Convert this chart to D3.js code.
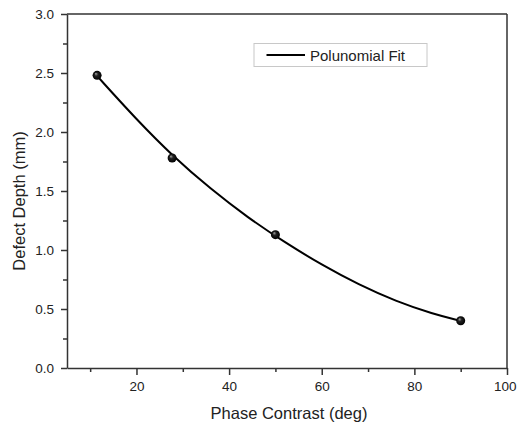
<!DOCTYPE html>
<html>
<script src="https://d3js.org/d3.v7.min.js"></script>

<head>
    <style>
        body {
            margin: 0;
            background-color: #fff;
            font-family: Arial, "Liberation Sans", Helvetica, sans-serif;
        }

        svg {
            display: block;
        }
    </style>
</head>

<body>
</body>
<script>
    // measured points
    const phase = [11.5, 27.7, 50, 90];
    const depth = [2.48, 1.78, 1.13, 0.40];

    // fit curve
    const fitPhase = [11.5, 20, 28, 36, 44, 52, 60, 68, 76, 84, 90];
    const fitDepth = [2.475, 2.106, 1.790, 1.518, 1.276, 1.065, 0.874, 0.706, 0.566, 0.458, 0.400];

    const xTicks = [20, 40, 60, 80, 100];
    const xMinor = [10, 30, 50, 70, 90];
    const yTicks = [0, 0.5, 1.0, 1.5, 2.0, 2.5, 3.0];
    const yMinor = [0.25, 0.75, 1.25, 1.75, 2.25, 2.75];

    const legendLabel = "Polunomial Fit";
    const xTitle = "Phase Contrast (deg)";
    const yTitle = "Defect Depth (mm)";

    const width = 517,
        height = 425;
    const margin = { top: 14, right: 10, bottom: 57, left: 67 };
    const axisColor = "#333";
    const textColor = "#222";

    const svg = d3.select("body").append("svg").attr("width", width).attr("height", height);

    const x = d3.scaleLinear()
        .domain([5, 100])
        .range([margin.left, width - margin.right]);
    const y = d3.scaleLinear()
        .domain([0, 3])
        .range([height - margin.bottom, margin.top]);

    // sphere-like marker fill
    const grad = svg.append("defs").append("radialGradient")
        .attr("id", "ball")
        .attr("fx", "0.35")
        .attr("fy", "0.3");
    grad.append("stop").attr("offset", "0%").attr("stop-color", "#aaa");
    grad.append("stop").attr("offset", "40%").attr("stop-color", "#222");
    grad.append("stop").attr("offset", "100%").attr("stop-color", "#000");

    // frame: top and right lines without ticks
    svg.append("line")
        .attr("x1", x.range()[0]).attr("x2", x.range()[1])
        .attr("y1", y(3)).attr("y2", y(3))
        .attr("stroke", axisColor).attr("stroke-width", 1.5);
    svg.append("line")
        .attr("x1", x(100)).attr("x2", x(100))
        .attr("y1", y(0)).attr("y2", y(3))
        .attr("stroke", axisColor).attr("stroke-width", 1.5);

    // x axis
    const xAxis = svg.append("g")
        .attr("transform", `translate(0,${y(0)})`)
        .call(d3.axisBottom(x).tickValues(xTicks).tickSize(7).tickSizeOuter(0).tickPadding(6));
    svg.append("g")
        .attr("transform", `translate(0,${y(0)})`)
        .call(d3.axisBottom(x).tickValues(xMinor).tickSize(4).tickFormat(""))
        .call(g => g.select(".domain").remove());

    // y axis
    svg.append("g")
        .attr("transform", `translate(${x(5)},0)`)
        .call(d3.axisLeft(y).tickValues(yTicks).tickSize(6).tickSizeOuter(0).tickPadding(7).tickFormat(d3.format(".1f")));
    svg.append("g")
        .attr("transform", `translate(${x(5)},0)`)
        .call(d3.axisLeft(y).tickValues(yMinor).tickSize(4).tickFormat(""))
        .call(g => g.select(".domain").remove());

    svg.selectAll(".domain, .tick line")
        .attr("stroke", axisColor)
        .attr("stroke-width", 1.5);
    svg.selectAll(".tick text")
        .attr("fill", textColor)
        .attr("font-size", "13.5px")
        .attr("font-family", "Arial, 'Liberation Sans', sans-serif");

    // last x label sits against the right edge, keep it inside the page
    xAxis.selectAll(".tick text")
        .filter(d => d === 100)
        .attr("text-anchor", "end")
        .attr("x", width - 1 - x(100));

    // fit curve
    const fitData = fitPhase.map((p, i) => ({ p: p, d: fitDepth[i] }));
    svg.append("path")
        .datum(fitData)
        .attr("fill", "none")
        .attr("stroke", "#000")
        .attr("stroke-width", 2)
        .attr("d", d3.line()
            .curve(d3.curveBasis)
            .x(d => x(d.p))
            .y(d => y(d.d)));

    // points
    svg.selectAll(".pt")
        .data(phase.map((p, i) => ({ p: p, d: depth[i] })))
        .join("circle")
        .attr("class", "pt")
        .attr("cx", d => x(d.p))
        .attr("cy", d => y(d.d))
        .attr("r", 4.5)
        .attr("fill", "url(#ball)");

    // legend
    const legend = svg.append("g").attr("transform", "translate(254,43.5)");
    legend.append("rect")
        .attr("width", 173)
        .attr("height", 23)
        .attr("fill", "#fff")
        .attr("stroke", "#c8c8c8")
        .attr("stroke-width", 1);
    legend.append("line")
        .attr("x1", 12.5).attr("x2", 51)
        .attr("y1", 11.5).attr("y2", 11.5)
        .attr("stroke", "#000")
        .attr("stroke-width", 2);
    legend.append("text")
        .attr("x", 56)
        .attr("y", 17.5)
        .attr("font-size", "15px")
        .attr("fill", textColor)
        .text(legendLabel);

    // axis titles
    svg.append("text")
        .attr("x", 289)
        .attr("y", 419)
        .attr("text-anchor", "middle")
        .attr("font-size", "16.5px")
        .attr("fill", textColor)
        .text(xTitle);
    svg.append("text")
        .attr("transform", "translate(25,201) rotate(-90)")
        .attr("text-anchor", "middle")
        .attr("font-size", "16.5px")
        .attr("fill", textColor)
        .text(yTitle);
</script>

</html>
